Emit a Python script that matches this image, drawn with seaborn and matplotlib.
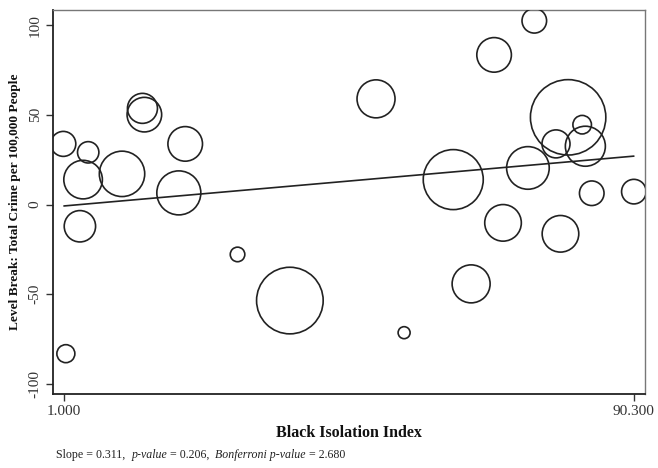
import numpy as np
import pandas as pd
import matplotlib
matplotlib.use("Agg")
import matplotlib.pyplot as plt
import seaborn as sns

# Data
isolation = [0.9, 4.8, 4.0, 10.1, 13.3, 13.6, 20.0, 19.0, 3.5, 1.3, 28.2, 36.4,
             49.9, 68.4, 74.7, 80.0, 82.2, 78.1, 82.7, 73.7, 62.0, 83.7, 90.3,
             69.8, 78.8, 64.8, 54.3]
level_break = [33.8, 29.1, 13.9, 17.1, 53.6, 50.1, 33.8, 6.5, -12.1, -83.1, -27.8, -53.5,
               58.9, 83.4, 102.4, 48.6, 44.5, 33.8, 32.5, 20.4, 13.9, 6.3, 7.2,
               -10.2, -16.3, -44.2, -71.4]
# relative weight (area of circle)
weight = [156, 114, 372, 515, 225, 299, 299, 484, 246, 81, 53, 1109,
          361, 299, 151, 1421, 86, 196, 400, 454, 900, 151, 151,
          335, 335, 361, 36]
slope = 0.311
intercept = -1.1
x_ticks = [1.000, 90.300]
x_tick_labels = ["1.000", "90.300"]
y_ticks = [-100, -50, 0, 50, 100]

df = pd.DataFrame({"x": isolation, "y": level_break, "w": weight})

sns.set_theme(style="white")
plt.rcParams["font.family"] = ["Liberation Serif", "DejaVu Serif"]

fig = plt.figure(figsize=(6.58, 4.68), dpi=100)
ax = fig.add_axes([0.0805, 0.158, 0.8995, 0.8206])

wmax = max(weight)
smax = (2 * np.sqrt(wmax) * 0.72) ** 2
sns.scatterplot(data=df, x="x", y="y", size="w", sizes=(0, smax), size_norm=(0, wmax),
                facecolor="none", edgecolor="#222222", linewidth=1.2, legend=False,
                ax=ax, zorder=3)

line_x = np.array([x_ticks[0], x_ticks[1]])
line_df = pd.DataFrame({"x": line_x, "y": intercept + slope * line_x})
sns.lineplot(data=line_df, x="x", y="y", color="#222222", linewidth=1.2, ax=ax, zorder=2)

ax.set_xlim(-0.72, 92.02)
ax.set_ylim(-105.6, 108.4)
ax.set_xticks(x_ticks)
ax.set_xticklabels(x_tick_labels, fontsize=11, color="#333333")
ax.set_yticks(y_ticks)
ax.set_yticklabels([str(v) for v in y_ticks], rotation=90, va="center",
                   fontsize=11, color="#333333")
ax.tick_params(axis="both", which="both", direction="out", length=5, width=1,
               color="#333333", bottom=True, left=True, pad=3)

for side in ["left", "bottom"]:
    ax.spines[side].set_color("#222222")
    ax.spines[side].set_linewidth(1.3)
for side in ["top", "right"]:
    ax.spines[side].set_color("#777777")
    ax.spines[side].set_linewidth(1.0)

ax.set_xlabel("Black Isolation Index", fontsize=11.5, fontweight="bold", labelpad=5,
              color="#111111")
ax.set_ylabel("Level Break: Total Crime per 100,000 People", fontsize=9.6, fontweight="bold",
              labelpad=6, color="#111111")

# footnote with mixed italics
fs = 8.6
t1 = fig.text(56 / 658, 1 - 455 / 468, "Slope = 0.311,  ", fontsize=fs, va="center",
              color="#222222")
t2 = ax.annotate("p-value", xy=(1, 0.5), xycoords=t1, va="center", ha="left",
                 fontsize=fs, style="italic", color="#222222")
t3 = ax.annotate(" = 0.206,  ", xy=(1, 0.5), xycoords=t2, va="center", ha="left",
                 fontsize=fs, color="#222222")
t4 = ax.annotate("Bonferroni p-value", xy=(1, 0.5), xycoords=t3, va="center", ha="left",
                 fontsize=fs, style="italic", color="#222222")
t5 = ax.annotate(" = 2.680", xy=(1, 0.5), xycoords=t4, va="center", ha="left",
                 fontsize=fs, color="#222222")

fig.savefig("out.png", dpi=100)
